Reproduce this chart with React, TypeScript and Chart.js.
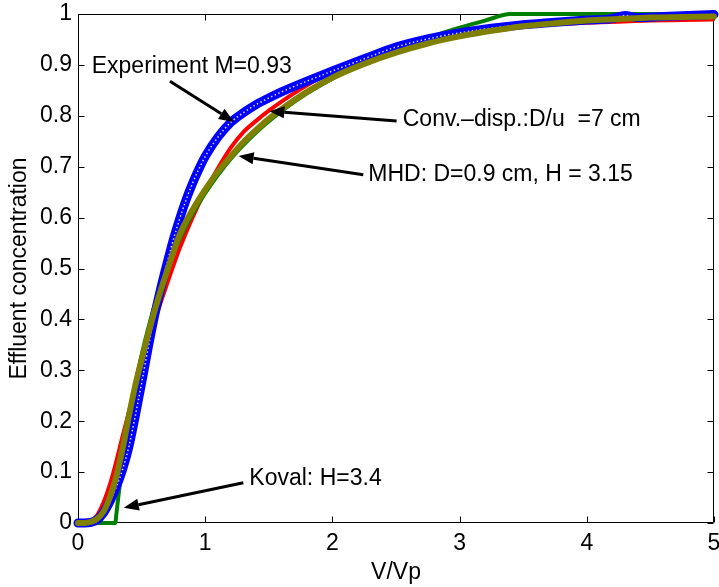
import React, { useEffect, useRef } from 'react';
import { Chart, registerables } from 'chart.js';

Chart.register(...registerables);

const FONT = '"Liberation Sans", Arial, Helvetica, sans-serif';
const FONT_SIZE = 23;

// Tick labels
const xTickLabels = ['0', '1', '2', '3', '4', '5'];
const yTickLabels = ['0', '0.1', '0.2', '0.3', '0.4', '0.5', '0.6', '0.7', '0.8', '0.9', '1'];

// Experiment M=0.93 (blue circles)
const expX = [0, 0.05, 0.1, 0.15, 0.2, 0.25, 0.3, 0.35, 0.4, 0.45, 0.5, 0.55, 0.6, 0.65, 0.7, 0.75, 0.8, 0.85, 0.9, 0.95, 1.0, 1.1, 1.2, 1.3, 1.4, 1.5, 1.6, 1.8, 2.0, 2.25, 2.5, 2.75, 3.0, 3.25, 3.5, 3.75, 4.0, 4.2, 4.3, 4.4, 4.6, 4.8, 5.0];
const expY = [0, 0, 0.001, 0.006, 0.02, 0.042, 0.07, 0.105, 0.15, 0.21, 0.275, 0.342, 0.405, 0.46, 0.51, 0.557, 0.598, 0.635, 0.667, 0.695, 0.72, 0.758, 0.787, 0.806, 0.822, 0.835, 0.847, 0.868, 0.888, 0.912, 0.935, 0.951, 0.963, 0.972, 0.979, 0.984, 0.988, 0.991, 0.997, 0.993, 0.995, 0.997, 0.999];

// Shared V/Vp grid for the two model curves
const modelX = [0, 0.05, 0.1, 0.15, 0.2, 0.25, 0.3, 0.35, 0.4, 0.45, 0.5, 0.6, 0.7, 0.8, 0.9, 1.0, 1.1, 1.2, 1.3, 1.4, 1.5, 1.6, 1.8, 2.0, 2.25, 2.5, 2.75, 3.0, 3.25, 3.5, 3.75, 4.0, 4.25, 4.5, 4.75, 5.0];
// Convection-dispersion (red)
const convY = [0, 0, 0.004, 0.015, 0.04, 0.075, 0.12, 0.17, 0.218, 0.265, 0.31, 0.395, 0.47, 0.54, 0.6, 0.652, 0.697, 0.737, 0.768, 0.79, 0.81, 0.828, 0.86, 0.887, 0.913, 0.938, 0.953, 0.963, 0.97, 0.976, 0.98, 0.983, 0.985, 0.987, 0.988, 0.989];
// MHD (olive)
const mhdY = [0, 0, 0.002, 0.008, 0.022, 0.05, 0.09, 0.145, 0.21, 0.27, 0.32, 0.415, 0.495, 0.567, 0.615, 0.655, 0.69, 0.72, 0.748, 0.772, 0.794, 0.813, 0.847, 0.875, 0.902, 0.924, 0.942, 0.956, 0.967, 0.976, 0.982, 0.987, 0.99, 0.993, 0.994, 0.995];

// Koval H=3.4 (green)
const kovalX = [0, 0.294, 0.3, 0.32, 0.35, 0.4, 0.45, 0.5, 0.6, 0.7, 0.8, 0.9, 1.0, 1.2, 1.4, 1.6, 1.8, 2.0, 2.25, 2.5, 2.75, 3.0, 3.2, 3.4, 5.0];
const kovalY = [0, 0, 0.014, 0.058, 0.118, 0.202, 0.271, 0.33, 0.425, 0.498, 0.558, 0.607, 0.648, 0.715, 0.767, 0.809, 0.844, 0.873, 0.905, 0.931, 0.953, 0.973, 0.987, 1.0, 1.0];

// Annotations (data coordinates)
const labelTexts = ['Experiment M=0.93', 'Conv.\u2013disp.:D/u  =7 cm', 'MHD: D=0.9 cm, H = 3.15', 'Koval: H=3.4'];
const labelX = [0.108, 2.553, 2.282, 1.347];
const labelY = [0.8965, 0.792, 0.684, 0.088];
const arrowTail = [[0.723, 0.868], [2.505, 0.79], [2.243, 0.684], [1.3, 0.079]];
const arrowHead = [[1.226, 0.788], [1.504, 0.809], [1.263, 0.721], [0.36, 0.03]];

const toPoints = (xs: number[], ys: number[]) => xs.map((x, i) => ({ x, y: ys[i] }));

const framePlugin = {
  id: 'matlabFrame',
  beforeDatasetsDraw(chart: any) {
    const { ctx, chartArea: a, scales } = chart;
    const xs = scales.x;
    const ys = scales.y;
    const L = Math.round(a.left) + 0.5;
    const R = Math.round(a.right) - 0.5;
    const T = Math.round(a.top) + 0.5;
    const B = Math.round(a.bottom) - 0.5;
    ctx.save();
    ctx.strokeStyle = '#000';
    ctx.lineWidth = 1;
    ctx.beginPath();
    ctx.moveTo(L, T);
    ctx.lineTo(R, T);
    ctx.lineTo(R, B);
    ctx.lineTo(L, B);
    ctx.closePath();
    const tl = 6;
    xs.ticks.forEach((t: any) => {
      const p = Math.round(xs.getPixelForValue(t.value)) + 0.5;
      ctx.moveTo(p, B);
      ctx.lineTo(p, B - tl);
      ctx.moveTo(p, T);
      ctx.lineTo(p, T + tl);
    });
    ys.ticks.forEach((t: any) => {
      const p = Math.round(ys.getPixelForValue(t.value)) + 0.5;
      ctx.moveTo(L, p);
      ctx.lineTo(L + tl, p);
      ctx.moveTo(R, p);
      ctx.lineTo(R - tl, p);
    });
    ctx.stroke();
    ctx.restore();
  },
};

const annotationPlugin = {
  id: 'arrowLabels',
  afterDatasetsDraw(chart: any) {
    const { ctx, scales } = chart;
    const xs = scales.x;
    const ys = scales.y;
    ctx.save();
    ctx.fillStyle = '#000';
    ctx.strokeStyle = '#000';
    ctx.font = `${FONT_SIZE}px ${FONT}`;
    ctx.textAlign = 'left';
    ctx.textBaseline = 'middle';
    labelTexts.forEach((txt, i) => {
      ctx.fillText(txt, xs.getPixelForValue(labelX[i]), ys.getPixelForValue(labelY[i]));
      const x1 = xs.getPixelForValue(arrowTail[i][0]);
      const y1 = ys.getPixelForValue(arrowTail[i][1]);
      const x2 = xs.getPixelForValue(arrowHead[i][0]);
      const y2 = ys.getPixelForValue(arrowHead[i][1]);
      const ang = Math.atan2(y2 - y1, x2 - x1);
      const len = 15;
      const hw = 6;
      const bx = x2 - len * Math.cos(ang);
      const by = y2 - len * Math.sin(ang);
      ctx.lineWidth = 3;
      ctx.beginPath();
      ctx.moveTo(x1, y1);
      ctx.lineTo(bx, by);
      ctx.stroke();
      ctx.beginPath();
      ctx.moveTo(x2, y2);
      ctx.lineTo(bx + hw * Math.sin(ang), by - hw * Math.cos(ang));
      ctx.lineTo(bx - hw * Math.sin(ang), by + hw * Math.cos(ang));
      ctx.closePath();
      ctx.fill();
    });
    ctx.restore();
  },
};

export default function App() {
  const canvasRef = useRef<HTMLCanvasElement | null>(null);

  useEffect(() => {
    if (!canvasRef.current) return;
    Chart.defaults.font.family = FONT;
    Chart.defaults.font.size = FONT_SIZE;
    Chart.defaults.color = '#000';

    const chart = new Chart(canvasRef.current, {
      type: 'line',
      data: {
        datasets: [
          {
            label: 'MHD: D=0.9 cm, H = 3.15',
            data: toPoints(modelX, mhdY),
            borderColor: '#808000',
            borderWidth: 6,
            pointRadius: 0,
            cubicInterpolationMode: 'monotone',
            borderCapStyle: 'round',
            fill: false,
            clip: false,
          },
          {
            label: 'Experiment markers',
            data: toPoints(expX, expY),
            borderColor: 'rgba(255,255,255,0.85)',
            borderWidth: 1.5,
            borderDash: [1.5, 2.5],
            pointRadius: 0,
            cubicInterpolationMode: 'monotone',
            fill: false,
            clip: false,
          },
          {
            label: 'Experiment M=0.93',
            data: toPoints(expX, expY),
            borderColor: '#0000ff',
            borderWidth: 9,
            pointRadius: 0,
            cubicInterpolationMode: 'monotone',
            borderCapStyle: 'round',
            borderJoinStyle: 'round',
            fill: false,
            clip: false,
          },
          {
            label: 'Koval: H=3.4',
            data: toPoints(kovalX, kovalY),
            borderColor: '#008000',
            borderWidth: 4,
            pointRadius: 0,
            cubicInterpolationMode: 'monotone',
            fill: false,
            clip: false,
          },
          {
            label: 'Conv.-disp.',
            data: toPoints(modelX, convY),
            borderColor: '#ff0000',
            borderWidth: 4,
            pointRadius: 0,
            cubicInterpolationMode: 'monotone',
            fill: false,
            clip: false,
          },
        ],
      },
      options: {
        animation: false,
        responsive: false,
        maintainAspectRatio: false,
        layout: { padding: { top: 14, right: 5, bottom: 0, left: 0 } },
        plugins: { legend: { display: false }, tooltip: { enabled: false } },
        scales: {
          x: {
            type: 'linear',
            min: 0,
            max: 5,
            grid: { display: false, drawTicks: false },
            border: { display: false },
            ticks: {
              stepSize: 1,
              autoSkip: false,
              maxRotation: 0,
              padding: 7,
              color: '#000',
              font: { size: FONT_SIZE, family: FONT },
              callback: (_v: any, i: number) => xTickLabels[i],
            },
            title: {
              display: true,
              text: 'V/Vp',
              color: '#000',
              font: { size: FONT_SIZE, family: FONT },
              padding: { top: 0, bottom: 1 },
            },
            afterFit: (s: any) => {
              s.height = 64;
              s.paddingLeft = 0;
              s.paddingRight = 0;
            },
          },
          y: {
            type: 'linear',
            min: 0,
            max: 1,
            grid: { display: false, drawTicks: false },
            border: { display: false },
            ticks: {
              stepSize: 0.1,
              autoSkip: false,
              padding: 6,
              color: '#000',
              font: { size: FONT_SIZE, family: FONT },
              callback: (_v: any, i: number) => yTickLabels[i],
            },
            title: {
              display: true,
              text: 'Effluent concentration',
              color: '#000',
              font: { size: FONT_SIZE, family: FONT },
              padding: { top: 6, bottom: 0 },
            },
            afterFit: (s: any) => {
              s.width = 78;
              s.paddingTop = 0;
              s.paddingBottom = 0;
            },
          },
        },
      },
      plugins: [framePlugin, annotationPlugin],
    } as any);

    return () => chart.destroy();
  }, []);

  return (
    <div style={{ position: 'absolute', left: 0, top: 0, width: 719, height: 587, background: '#fff' }}>
      <canvas ref={canvasRef} width={719} height={587} style={{ display: 'block' }} />
    </div>
  );
}
